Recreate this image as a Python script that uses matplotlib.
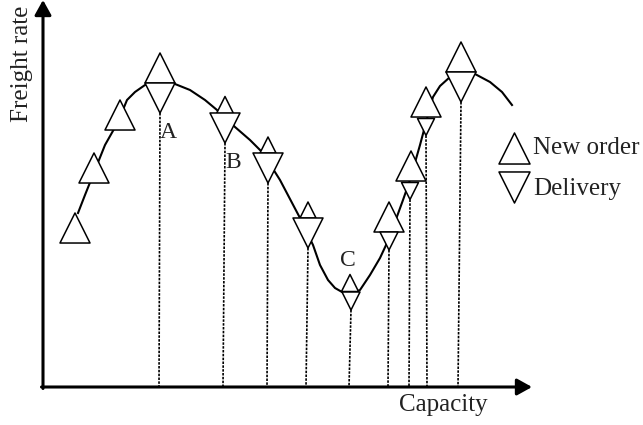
import numpy as np
from matplotlib import pyplot as plt

plt.rcParams['font.family'] = ['Liberation Serif', 'DejaVu Serif']

# freight rate cycle curve (capacity, rate) - schematic units
curve_x = [35, 42, 50, 62, 75, 84, 92, 102, 117, 132, 147, 162, 174, 192, 207, 220, 237,
           257, 270, 277, 285, 292, 299, 307, 317, 327, 337, 344, 352, 360, 367, 377, 385,
           390, 397, 407, 418, 432, 447, 459, 469]
curve_y = [174, 192, 212, 242, 265, 287, 295, 302, 305, 303, 297, 287, 277, 260, 247, 234, 207,
           169, 142, 122, 107, 99, 95, 93, 97, 112, 129, 144, 165, 187, 207, 242, 272,
           290, 301, 310, 314, 313, 305, 295, 282]

# new orders (up triangles)
order_x = [32, 51, 77, 117, 182, 225, 265, 307, 346, 368, 383, 418]
order_y = [159, 219, 272, 319, 282, 242, 177, 104, 170, 221, 285, 330]
order_size = [30, 30, 30, 30, 17, 16, 16, 17, 30, 30, 30, 30]

# deliveries (down triangles)
deliv_x = [117, 182, 225, 265, 308, 346, 367, 383, 418]
deliv_y = [289, 259, 219, 154, 86, 146, 196, 260, 300]
deliv_size = [30, 30, 30, 30, 18, 18, 17, 17, 30]
drop_x = [116, 180, 224, 263, 306, 345, 366, 384, 415]

point_labels = ['A', 'B', 'C']
label_x = [125, 190, 305]
label_y = [254, 225, 127]

fig = plt.figure(figsize=(6.43, 4.25), dpi=100)
ax = fig.add_axes([43 / 643, 38 / 425, 600 / 643, 387 / 425])
ax.set_xlim(0, 600)
ax.set_ylim(0, 387)
ax.axis('off')

# axes with arrows
arrow = dict(arrowstyle='-|>,head_length=0.45,head_width=0.25', lw=2.2, color='black',
             mutation_scale=20, shrinkA=0, shrinkB=0)
ax.annotate('', xy=(0, 387), xytext=(0, -1.5), arrowprops=arrow, annotation_clip=False)
ax.annotate('', xy=(489, 0), xytext=(-1.5, 0), arrowprops=arrow, annotation_clip=False)

ax.plot(curve_x, curve_y, color='black', lw=1.5, zorder=2, solid_joinstyle='round')

# dotted drops from each delivery to the capacity axis
for x, y, s, xb in zip(deliv_x, deliv_y, deliv_size, drop_x):
    ax.plot([x, xb], [y - s / 2, 0], color='black', lw=1.2,
            linestyle=(0, (1.5, 0.8)), zorder=1)

ax.scatter(order_x, order_y, s=np.array(order_size) ** 2 * 0.52, marker='^',
           facecolor='white', edgecolor='black', linewidths=1.1, zorder=3)
ax.scatter(deliv_x, deliv_y, s=np.array(deliv_size) ** 2 * 0.52, marker='v',
           facecolor='white', edgecolor='black', linewidths=1.1, zorder=4)

for t, x, y in zip(point_labels, label_x, label_y):
    ax.text(x, y, t, fontsize=17, color='#222222', ha='center', va='center', zorder=5)

# legend
ax.scatter([471], [239.5], s=31 ** 2 * 0.52, marker='^', facecolor='white',
           edgecolor='black', linewidths=1.1, clip_on=False)
ax.scatter([471], [200], s=31 ** 2 * 0.52, marker='v', facecolor='white',
           edgecolor='black', linewidths=1.1, clip_on=False)
ax.text(490, 239, 'New order', fontsize=18, color='#222222', va='center', clip_on=False)
ax.text(490, 198, 'Delivery', fontsize=18, color='#222222', va='center', clip_on=False)

ax.text(-21, 323, 'Freight rate', fontsize=18, color='#222222', rotation=90,
        ha='center', va='center', clip_on=False)
ax.text(400, -18, 'Capacity', fontsize=18, color='#222222', ha='center', va='center',
        clip_on=False)

fig.savefig('out.png', dpi=100)
